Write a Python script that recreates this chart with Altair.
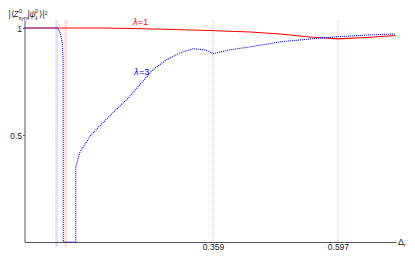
import altair as alt
import pandas as pd

# lambda = 3 curve (blue, dotted)
blue_x = [0.0, 0.063, 0.0676, 0.072, 0.0735, 0.074, 0.0975, 0.0975, 0.1057, 0.125, 0.1375,
          0.169, 0.197, 0.245, 0.271, 0.296, 0.321, 0.344, 0.359, 0.391, 0.43, 0.487,
          0.544, 0.591, 0.658, 0.707]
blue_y = [1.0, 1.0, 0.98, 0.93, 0.85, 0.0, 0.0, 0.35, 0.42, 0.495, 0.528,
          0.606, 0.671, 0.806, 0.852, 0.884, 0.903, 0.898, 0.88, 0.898, 0.912, 0.935,
          0.949, 0.958, 0.968, 0.972]
# lambda = 1 curve (red, solid)
red_x = [0.0, 0.15, 0.25, 0.35, 0.43, 0.487, 0.544, 0.597, 0.658, 0.707]
red_y = [1.0, 1.0, 0.995, 0.988, 0.981, 0.972, 0.958, 0.949, 0.957, 0.965]

light_lines = [0.0613, 0.0785]
light_colors = ["#0000ff", "#ff0000"]
dotted_lines = [0.359, 0.597]
dotted_colors = ["#0000ff", "#ff0000"]
y_ticks = [0.5, 1.0]

W, H = 371.5, 222
FONT = "Liberation Sans"
xs = alt.Scale(domain=[0, 0.7076], nice=False, zero=False)
ys = alt.Scale(domain=[0, 1.0374], nice=False, zero=False)

blue_df = pd.DataFrame({"d": blue_x, "v": blue_y, "o": range(len(blue_x))})
red_df = pd.DataFrame({"d": red_x, "v": red_y, "o": range(len(red_x))})

axis_x = alt.X("d:Q", scale=xs, title=None,
               axis=alt.Axis(values=dotted_lines, format=".3f", ticks=False, grid=False,
                             domainColor="#555", domainWidth=1, labelFont=FONT,
                             labelFontSize=8.5, labelColor="#222", labelPadding=0))
axis_y = alt.Y("v:Q", scale=ys, title=None,
               axis=alt.Axis(values=y_ticks, format="~g", tickSize=2, tickColor="#555",
                             grid=False, domainColor="#555", domainWidth=1, labelFont=FONT,
                             labelFontSize=8.5, labelColor="#222", labelPadding=1))

layers = []
for xv, c in zip(light_lines, light_colors):
    layers.append(alt.Chart(pd.DataFrame({"d": [xv]})).mark_rule(
        color=c, strokeWidth=3, opacity=0.12).encode(
        x=alt.X("d:Q", scale=xs), y=alt.value(0), y2=alt.value(H + 5)))
for xv, c in zip(dotted_lines, dotted_colors):
    layers.append(alt.Chart(pd.DataFrame({"d": [xv]})).mark_rule(
        color=c, strokeWidth=1, opacity=0.3, strokeDash=[1, 1]).encode(
        x=alt.X("d:Q", scale=xs), y=alt.value(0), y2=alt.value(H)))

red_line = alt.Chart(red_df).mark_line(color="#ff0000", strokeWidth=1.1).encode(
    x=axis_x, y=axis_y, order="o:Q")
blue_line = alt.Chart(blue_df).mark_line(color="#0000ff", strokeWidth=1.1,
                                         strokeDash=[1, 1]).encode(
    x=alt.X("d:Q", scale=xs), y=alt.Y("v:Q", scale=ys), order="o:Q")
layers += [red_line, blue_line]

OX, OY = 24.5, 20  # plot origin in page pixels


def txt(s, ax, ay, size=9, color="#222", style="normal"):
    return alt.Chart(alt.Data(values=[{}])).mark_text(
        text=s, align="left", baseline="alphabetic", font=FONT, fontSize=size,
        color=color, fontStyle=style).encode(x=alt.value(ax - OX), y=alt.value(ay - OY))


TX, TY = 8.5, 16.5  # title start / baseline
layers += [
    txt("|⟨", TX, TY, 8.5),
    txt("Z", TX + 5, TY, 8.5, style="italic"),
    txt("0", TX + 10.5, TY - 4, 5.5),
    txt("sym", TX + 10, TY + 3, 5.5),
    txt("|", TX + 19, TY, 8.5),
    txt("ψ", TX + 21, TY, 8.5, style="italic"),
    txt("0", TX + 26.5, TY - 4, 5.5),
    txt("λ", TX + 26.5, TY + 3, 5.5, style="italic"),
    txt("⟩|²", TX + 30, TY, 8.5),
    # x-axis title
    txt("Δ", 398, 245, 9),
    txt("r", 404, 247, 6, style="italic"),
    # series labels
    txt("λ", 133, 25, 9, "#ff0000", "italic"),
    txt("=1", 138, 25, 9, "#ff0000"),
    txt("λ", 134, 75, 9, "#0000ff", "italic"),
    txt("=3", 139, 75, 9, "#0000ff"),
]

chart = alt.layer(*layers).properties(
    width=W, height=H,
    autosize=alt.AutoSizeParams(type="none"),
    padding={"left": 16.5, "top": 12, "right": 11, "bottom": 9},
).configure_view(stroke=None)

chart.save("out.html", embed_options={"renderer": "svg", "actions": False})
